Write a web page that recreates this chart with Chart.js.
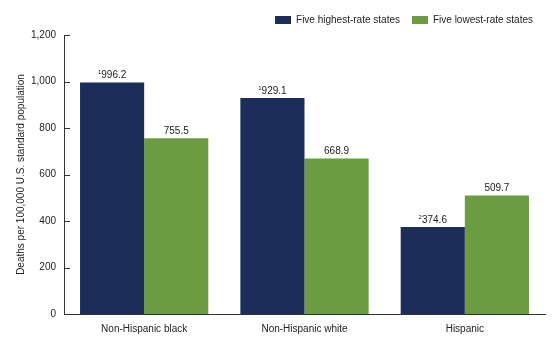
<!DOCTYPE html>
<html>
<head>
<meta charset="utf-8">
<script src="https://cdn.jsdelivr.net/npm/chart.js@4/dist/chart.umd.min.js"></script>
<style>
  body { margin: 0; background: #fff; }
  canvas { display: block; }
</style>
</head>
<body>
<canvas id="barChart" width="560" height="349"></canvas>
<script>
/* ---------- data ---------- */
const categories = ["Non-Hispanic black", "Non-Hispanic white", "Hispanic"];
const highestRate = [996.2, 929.1, 374.6];
const lowestRate = [755.5, 668.9, 509.7];
const highestNotes = ["1", "1", "2"];
const seriesNames = ["Five highest-rate states", "Five lowest-rate states"];
const yTicks = [0, 200, 400, 600, 800, 1000, 1200];

const NAVY = "#1c2d5a";
const GREEN = "#6b9c41";
const FONT = "'Liberation Sans', Arial, sans-serif";

/* ---------- labels above bars (with footnote superscripts) ---------- */
const barLabels = {
  id: "barLabels",
  afterDatasetsDraw(chart) {
    const ctx = chart.ctx;
    ctx.save();
    ctx.fillStyle = "#222";
    ctx.textBaseline = "alphabetic";
    chart.data.datasets.forEach((ds, di) => {
      chart.getDatasetMeta(di).data.forEach((bar, i) => {
        const txt = ds.data[i].toFixed(1);
        const note = di === 0 ? highestNotes[i] : "";
        ctx.font = "10px " + FONT;
        const w = ctx.measureText(txt).width;
        ctx.font = "6px " + FONT;
        const nw = note ? ctx.measureText(note).width : 0;
        const x0 = bar.x - (w + nw) / 2;
        const y = bar.y - 4;
        if (note) {
          ctx.fillText(note, x0, y - 4);
        }
        ctx.font = "10px " + FONT;
        ctx.fillText(txt, x0 + nw, y);
      });
    });
    ctx.restore();
  }
};

/* ---------- short tick marks pointing into the plot ---------- */
const innerTicks = {
  id: "innerTicks",
  afterDraw(chart) {
    const y = chart.scales.y;
    const ctx = chart.ctx;
    ctx.save();
    ctx.strokeStyle = "#333";
    ctx.lineWidth = 1;
    y.ticks.forEach(t => {
      const py = Math.round(y.getPixelForValue(t.value)) + 0.5;
      ctx.beginPath();
      ctx.moveTo(y.right, py);
      ctx.lineTo(y.right + 6, py);
      ctx.stroke();
    });
    ctx.restore();
  }
};

/* ---------- fixed box sizes ---------- */
const fixedLayout = {
  id: "fixedLayout",
  beforeInit(chart) {
    chart.legend.afterFit = function () { this.height = 27; };
  }
};

new Chart(document.getElementById("barChart"), {
  type: "bar",
  data: {
    labels: categories,
    datasets: [
      {
        label: seriesNames[0],
        data: highestRate,
        backgroundColor: NAVY,
        categoryPercentage: 0.8,
        barPercentage: 1
      },
      {
        label: seriesNames[1],
        data: lowestRate,
        backgroundColor: GREEN,
        categoryPercentage: 0.8,
        barPercentage: 1
      }
    ]
  },
  options: {
    responsive: false,
    animation: false,
    layout: { padding: { left: 0, right: 15, top: 3, bottom: 0 } },
    plugins: {
      tooltip: { enabled: false },
      legend: {
        position: "top",
        align: "end",
        labels: {
          boxWidth: 16,
          boxHeight: 8,
          padding: 12,
          color: "#222",
          font: { family: FONT, size: 10 }
        }
      }
    },
    scales: {
      x: {
        grid: { display: false, drawTicks: false },
        border: { display: true, color: "#333", width: 1 },
        ticks: { color: "#222", padding: 9, font: { family: FONT, size: 10 } },
        afterFit(scale) { scale.height = 349 - 314; }
      },
      y: {
        min: 0,
        max: 1200,
        afterBuildTicks(scale) { scale.ticks = yTicks.map(v => ({ value: v })); },
        grid: { display: false, drawTicks: false },
        border: { display: true, color: "#333", width: 1 },
        ticks: {
          color: "#222",
          padding: 8,
          font: { family: FONT, size: 10 },
          callback: v => v.toLocaleString("en-US")
        },
        title: {
          display: true,
          text: "Deaths per 100,000 U.S. standard population",
          color: "#222",
          padding: { top: 15, bottom: 0 },
          font: { family: FONT, size: 10 }
        },
        afterFit(scale) { scale.width = 64; }
      }
    }
  },
  plugins: [barLabels, innerTicks, fixedLayout]
});
</script>
</body>
</html>
